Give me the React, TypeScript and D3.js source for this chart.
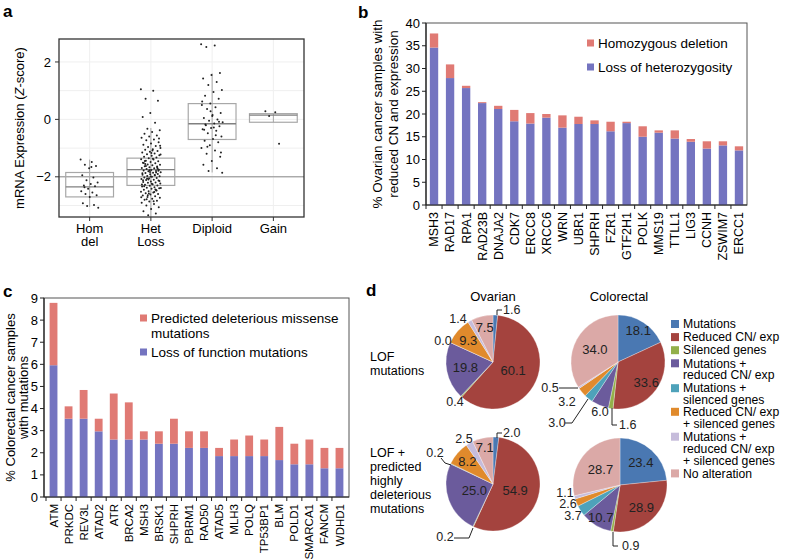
import * as d3 from 'd3'

const FONT = 'Liberation Sans, Arial, Helvetica, sans-serif'
const RED = '#e07a74'
const BLUE = '#7474c0'

// ---- panel a: mRNA expression by copy number state ----
const cnCats = ['Hom del', 'Het Loss', 'Diploid', 'Gain']
const cnLines = [['Hom', 'del'], ['Het', 'Loss'], ['Diploid'], ['Gain']]
const boxLow = [-3.05, -3.4, -1.85, -0.1]
const boxQ1 = [-2.7, -2.3, -0.7, -0.1]
const boxMed = [-2.35, -1.75, -0.15, 0.15]
const boxQ3 = [-1.85, -1.35, 0.55, 0.2]
const boxHigh = [-1.4, -0.3, 1.6, 0.2]
const homDelPts = [-1.4, -1.48, -1.58, -1.62, -1.7, -1.95, -2.02, -2.12, -2.2, -2.25, -2.3, -2.33, -2.42, -2.5, -2.55, -2.6, -2.64, -2.7, -2.92, -2.98, -3.02, -3.08, -1.66, -2.36]
const hetLossPts = [
  1.05, 1.0, 0.72, 0.65, 0.22, 0.08, -0.12, -0.33, -0.38, -0.44, -0.5, -0.56, -0.6, -0.64, -0.7, -0.73, -0.8,
  -0.84, -0.88, -0.93, -0.96, -1.0, -1.04, -1.06, -1.1, -1.13, -1.15, -1.19, -1.21, -1.25, -1.27, -1.3, -1.33,
  -1.35, -1.39, -1.4, -1.44, -1.46, -1.48, -1.51, -1.53, -1.57, -1.58, -1.6, -1.63, -1.64, -1.67, -1.69, -1.7,
  -1.73, -1.75, -1.76, -1.78, -1.8, -1.81, -1.84, -1.86, -1.87, -1.9, -1.91, -1.93, -1.95, -1.97, -1.98, -2.0,
  -2.02, -2.04, -2.05, -2.08, -2.1, -2.11, -2.13, -2.16, -2.18, -2.2, -2.21, -2.23, -2.26, -2.28, -2.3, -2.31,
  -2.34, -2.36, -2.38, -2.4, -2.42, -2.45, -2.47, -2.5, -2.52, -2.55, -2.57, -2.6, -2.62, -2.65, -2.68, -2.7,
  -2.73, -2.76, -2.8, -2.83, -2.86, -2.9, -2.95, -3.0, -3.06, -3.12, -3.2, -3.28, -3.34, -1.22, -1.37, -1.55,
  -1.72, -1.83, -1.88, -1.94, -2.06, -2.15, -2.24, -2.33, -2.48, -2.58, -2.71, -2.85, -1.62, -1.79, -1.99, -2.12,
  -2.44, -2.64, -0.92, -1.08, -1.45, -1.68, -1.77, -2.27, -2.53, -2.78, -0.67, -1.17, -1.52, -1.85, -2.09, -2.39
]
const diploidPts = [
  2.62, 2.57, 2.52, 1.62, 1.55, 1.42, 1.3, 1.2, 1.02, 0.95, 0.82, 0.72, 0.55, 0.5, 0.42, 0.36, 0.22, 0.12, 0.05,
  0.0, -0.05, -0.1, -0.14, -0.2, -0.24, -0.3, -0.34, -0.4, -0.48, -0.6, -0.68, -0.74, -0.8, -0.9, -1.0, -1.08,
  -1.2, -1.3, -1.45, -1.58, -1.7, -1.8, -1.86, -0.28, -0.18, -0.08, 0.28, 0.62, -0.55, -0.95, -1.15, 0.15, -0.36
]
const gainPts = [0.28, 0.25, 0.12, -0.85]
const cnPts = [homDelPts, hetLossPts, diploidPts, gainPts]
const cnJitter = [9, 10, 11, 8]
const zTicks = [2, 0, -2]
const zGrid = [2, 1, 0, -1, -2, -3]

// ---- panel b: ovarian, reduced CN and expression ----
const genesB = ['MSH3', 'RAD17', 'RPA1', 'RAD23B', 'DNAJA2', 'CDK7', 'ERCC8', 'XRCC6', 'WRN', 'UBR1', 'SHPRH', 'FZR1', 'GTF2H1', 'POLK', 'MMS19', 'TTLL1', 'LIG3', 'CCNH', 'ZSWIM7', 'ERCC1']
const lohB = [34.6, 27.9, 25.7, 22.4, 21.1, 18.4, 17.9, 19.2, 17.0, 17.8, 17.8, 16.2, 18.0, 15.0, 15.9, 14.6, 13.9, 12.4, 13.1, 12.0]
const homB = [3.1, 3.0, 0.5, 0.2, 0.7, 2.5, 2.3, 0.8, 2.7, 1.6, 0.8, 2.1, 0.3, 2.3, 0.5, 1.8, 0.6, 1.6, 0.9, 0.9]
const ticksB = [0, 5, 10, 15, 20, 25, 30, 35, 40]

// ---- panel c: colorectal mutations ----
const genesC = ['ATM', 'PRKDC', 'REV3L', 'ATAD2', 'ATR', 'BRCA2', 'MSH3', 'BRSK1', 'SHPRH', 'PBRM1', 'RAD50', 'ATAD5', 'MLH3', 'POLQ', 'TP53BP1', 'BLM', 'POLD1', 'SMARCA1', 'FANCM', 'WDHD1']
const lofC = [5.96, 3.54, 3.54, 2.97, 2.6, 2.6, 2.6, 2.41, 2.41, 2.22, 2.22, 1.85, 1.85, 1.85, 1.85, 1.67, 1.48, 1.48, 1.3, 1.3]
const missC = [2.82, 0.56, 1.3, 0.57, 2.08, 1.68, 0.37, 0.56, 1.13, 0.75, 0.75, 0.37, 0.75, 0.93, 0.75, 1.5, 0.93, 1.12, 0.92, 0.92]
const ticksC = [0, 1, 2, 3, 4, 5, 6, 7, 8, 9]

// ---- panel d: pies ----
const altLabels = [
  ['Mutations'], ['Reduced CN/ exp'], ['Silenced genes'], ['Mutations +', 'reduced CN/ exp'],
  ['Mutations +', 'silenced genes'], ['Reduced CN/ exp', '+ silenced genes'],
  ['Mutations +', 'reduced CN/ exp', '+ silenced genes'], ['No alteration']
]
const altColors = ['#4a78b2', '#a4433e', '#93b04a', '#6b5b9c', '#4ea2ba', '#e08a2c', '#c6bcdb', '#dba9a7']
const ovarianLof = [1.6, 60.1, 0.4, 19.8, 0.0, 9.3, 1.4, 7.5]
const colorectalLof = [18.1, 33.6, 1.6, 6.0, 3.0, 3.2, 0.5, 34.0]
const ovarianDel = [2.0, 54.9, 0.2, 25.0, 0.2, 8.2, 2.5, 7.1]
const colorectalDel = [23.4, 28.9, 0.9, 10.7, 3.7, 2.6, 1.1, 28.7]

type Lab = { i: number; r?: number; at?: [number, number]; anchor?: string; leader?: [number, number][] }
const pies: { cx: number; cy: number; values: number[]; labels: Lab[] }[] = [
  {
    cx: 493, cy: 362, values: ovarianLof,
    labels: [
      { i: 1, r: 0.47 }, { i: 3, r: 0.6 }, { i: 5, r: 0.7 }, { i: 7, r: 0.76 },
      { i: 0, at: [10, -52], anchor: 'start', leader: [[4, -47], [4, -52], [9, -52]] },
      { i: 6, at: [-35, -43] }, { i: 4, at: [-50, -21] }, { i: 2, at: [-38, 40] }
    ]
  },
  {
    cx: 618, cy: 362, values: colorectalLof,
    labels: [
      { i: 0, r: 0.8 }, { i: 1, r: 0.74 }, { i: 7, r: 0.56 },
      { i: 6, at: [-68, 26], leader: [[-59, 26], [-40, 26]] },
      { i: 5, at: [-51, 40] },
      { i: 4, at: [-61, 61], leader: [[-53, 61], [-46, 61], [-30, 37]] },
      { i: 3, at: [-18, 50] },
      { i: 2, at: [1, 63], anchor: 'start', leader: [[-6, 46], [-6, 63], [-1, 63]] }
    ]
  },
  {
    cx: 493, cy: 484, values: ovarianDel,
    labels: [
      { i: 1, r: 0.49 }, { i: 3, r: 0.42 }, { i: 5, r: 0.72 }, { i: 7, r: 0.79 },
      { i: 0, at: [10, -51], anchor: 'start', leader: [[4, -46], [4, -51], [9, -51]] },
      { i: 6, at: [-29, -45] },
      { i: 4, at: [-58, -31], leader: [[-52, -26], [-48, -21], [-42, -19]] },
      { i: 2, at: [-48, 53], leader: [[-39, 54], [-24, 54], [-20, 44]] }
    ]
  },
  {
    cx: 620, cy: 485, values: colorectalDel,
    labels: [
      { i: 0, r: 0.66 }, { i: 1, r: 0.66 }, { i: 7, r: 0.53 }, { i: 3, r: 0.8 },
      { i: 6, at: [-55, 8] }, { i: 5, at: [-52, 19] }, { i: 4, at: [-47, 31] },
      { i: 2, at: [2, 61], anchor: 'start', leader: [[-7, 47], [-7, 61], [-2, 61]] }
    ]
  }
]
const pieRadius = 47

function PanelA() {
  const x = d3.scaleBand<string>().domain(cnCats).range([59, 304])
  const y = d3.scaleLinear().domain([-3.4, 2.8]).range([217, 39])
  const bw = x.bandwidth()
  return (
    <g>
      <text x={3} y={17} fontSize={17} fontWeight="bold">a</text>
      {zGrid.map((v) => (
        <line key={v} x1={59} x2={304} y1={y(v)} y2={y(v)} stroke="#efefef" strokeWidth={1} />
      ))}
      {cnCats.map((c) => (
        <line key={c} x1={x(c)! + bw / 2} x2={x(c)! + bw / 2} y1={39} y2={217} stroke="#efefef" />
      ))}
      <line x1={59} x2={304} y1={y(-2)} y2={y(-2)} stroke="#8a8a8a" strokeWidth={1} />
      {cnCats.map((c, i) => {
        const cx = x(c)! + bw / 2
        const hw = bw * 0.39
        return (
          <g key={c}>
            <line x1={cx} x2={cx} y1={y(boxLow[i])} y2={y(boxHigh[i])} stroke="#a8a8a8" />
            <rect x={cx - hw} width={hw * 2} y={y(boxQ3[i])} height={y(boxQ1[i]) - y(boxQ3[i])}
              fill="none" stroke="#a8a8a8" strokeWidth={1.2} />
            <line x1={cx - hw} x2={cx + hw} y1={y(boxMed[i])} y2={y(boxMed[i])} stroke="#808080" strokeWidth={1.4} />
            {cnPts[i].map((v, k) => {
              const j = (((k * 0.618034) % 1) - 0.5) * 2 * cnJitter[i]
              return <circle key={k} cx={cx + j} cy={y(v)} r={1} fill="#222" />
            })}
          </g>
        )
      })}
      <rect x={59} y={39} width={245} height={178} fill="none" stroke="#333" strokeWidth={1.3} />
      {zTicks.map((v) => (
        <g key={v}>
          <line x1={55} x2={59} y1={y(v)} y2={y(v)} stroke="#333" />
          <text x={51} y={y(v)} dy="0.35em" textAnchor="end" fontSize={13}>{v < 0 ? '\u2212' + Math.abs(v) : v}</text>
        </g>
      ))}
      {cnCats.map((c, i) => (
        <g key={c}>
          <line x1={x(c)! + bw / 2} x2={x(c)! + bw / 2} y1={217} y2={221} stroke="#333" />
          {cnLines[i].map((t, k) => (
            <text key={k} x={x(c)! + bw / 2} y={228 + k * 13} dy="0.35em" textAnchor="middle" fontSize={13}>{t}</text>
          ))}
        </g>
      ))}
      <text transform={`translate(19,${(39 + 217) / 2}) rotate(-90)`} textAnchor="middle" dy="0.35em" fontSize={13}>
        mRNA Expression (<tspan fontStyle="italic">Z</tspan>-score)
      </text>
    </g>
  )
}

function StackedPanel(props: {
  letter: string; lx: number; ly: number; genes: string[]; base: number[]; top: number[]; ticks: number[]
  x0: number; x1: number; y0: number; y1: number; max: number; pad: number; xfs: number; yfs: number
  ylab: string[]; ylabX: number[]; legend: { color: string; lines: string[]; y: number }[]; legX: number
}) {
  const p = props
  const x = d3.scaleBand<string>().domain(p.genes).range([p.x0 + p.pad, p.x1 - p.pad]).paddingInner(0.48).paddingOuter(0.24)
  const y = d3.scaleLinear().domain([0, p.max]).range([p.y0, p.y1])
  const step = x.step()
  return (
    <g>
      <text x={p.lx} y={p.ly} fontSize={17} fontWeight="bold">{p.letter}</text>
      <rect x={p.x0} y={p.y1} width={p.x1 - p.x0} height={p.y0 - p.y1} fill="none" stroke="#555" strokeWidth={1} />
      {p.genes.map((g, i) => (
        <g key={g}>
          <rect x={x(g)} width={x.bandwidth()} y={y(p.base[i])} height={y(0) - y(p.base[i])} fill={BLUE} />
          <rect x={x(g)} width={x.bandwidth()} y={y(p.base[i] + p.top[i])} height={y(p.base[i]) - y(p.base[i] + p.top[i])} fill={RED} />
          <text transform={`translate(${x(g)! + x.bandwidth() / 2},${p.y0 + 7}) rotate(-90)`} textAnchor="end" dy="0.35em" fontSize={p.xfs}>{g}</text>
        </g>
      ))}
      <line x1={p.x0} x2={p.x1} y1={p.y0} y2={p.y0} stroke="#222" strokeWidth={1.2} />
      <line x1={p.x0} x2={p.x0} y1={p.y0} y2={p.y1} stroke="#222" strokeWidth={1.2} />
      {p.genes.map((g) => (
        <line key={g} x1={x(g)! - (step - x.bandwidth()) / 2} x2={x(g)! - (step - x.bandwidth()) / 2}
          y1={p.y0} y2={p.y0 + 4} stroke="#222" />
      ))}
      {p.ticks.map((t) => (
        <g key={t}>
          <line x1={p.x0 - 4} x2={p.x0} y1={y(t)} y2={y(t)} stroke="#222" />
          <text x={p.x0 - 6} y={y(t)} dy="0.35em" textAnchor="end" fontSize={13}>{t}</text>
        </g>
      ))}
      {p.ylab.map((t, k) => (
        <text key={k} transform={`translate(${p.ylabX[k]},${(p.y0 + p.y1) / 2}) rotate(-90)`} textAnchor="middle" dy="0.35em" fontSize={p.yfs}>{t}</text>
      ))}
      {p.legend.map((l) => (
        <g key={l.lines[0]}>
          <rect x={p.legX} y={l.y - 3.5} width={7} height={7} fill={l.color} />
          {l.lines.map((t, k) => (
            <text key={k} x={p.legX + 11} y={l.y + k * 15} dy="0.35em" fontSize={13.5}>{t}</text>
          ))}
        </g>
      ))}
    </g>
  )
}

function PanelD() {
  const pie = d3.pie<number>().sort(null).value((d) => d)
  const arc = d3.arc<d3.PieArcDatum<number>>().innerRadius(0).outerRadius(pieRadius)
  let yy = 324
  const legendRows = altLabels.map((lines, i) => {
    const y0 = yy
    yy += lines.length * 11.8 + (i === 4 ? 0 : 1.3)
    return { lines, y0, i }
  })
  return (
    <g>
      <text x={366} y={296} fontSize={17} fontWeight="bold">d</text>
      <text x={493} y={296} textAnchor="middle" dy="0.35em" fontSize={13}>Ovarian</text>
      <text x={619} y={296} textAnchor="middle" dy="0.35em" fontSize={13}>Colorectal</text>
      {['LOF', 'mutations'].map((t, k) => (
        <text key={t} x={370} y={357 + k * 14} dy="0.35em" fontSize={12.5}>{t}</text>
      ))}
      {['LOF +', 'predicted', 'highly', 'deleterious', 'mutations'].map((t, k) => (
        <text key={t} x={370} y={453 + k * 14} dy="0.35em" fontSize={12.5}>{t}</text>
      ))}
      {pies.map((pd, pi) => {
        const arcs = pie(pd.values)
        return (
          <g key={pi} transform={`translate(${pd.cx},${pd.cy})`}>
            {arcs.map((a, i) => (
              <path key={i} d={arc(a) || ''} fill={altColors[i]} stroke="#fff" strokeWidth={0.3} />
            ))}
            {pd.labels.map((l) => {
              const txt = pd.values[l.i].toFixed(1)
              if (l.r !== undefined) {
                const c = d3.arc<d3.PieArcDatum<number>>().innerRadius(pieRadius * l.r).outerRadius(pieRadius * l.r).centroid(arcs[l.i])
                return <text key={l.i} x={c[0]} y={c[1]} dy="0.35em" textAnchor="middle" fontSize={13} fill="#222">{txt}</text>
              }
              return (
                <g key={l.i}>
                  {l.leader && (
                    <polyline points={l.leader.map((q) => q.join(',')).join(' ')} fill="none" stroke="#222" strokeWidth={1} />
                  )}
                  <text x={l.at![0]} y={l.at![1]} dy="0.35em" textAnchor={l.anchor || 'middle'} fontSize={12.5} fill="#222">{txt}</text>
                </g>
              )
            })}
          </g>
        )
      })}
      {legendRows.map((row) => (
        <g key={row.i}>
          <rect x={671} y={row.y0 - 4} width={8} height={8} fill={altColors[row.i]} />
          {row.lines.map((t, k) => (
            <text key={k} x={683} y={row.y0 + k * 11.8} dy="0.35em" fontSize={12.2}>{t}</text>
          ))}
        </g>
      ))}
    </g>
  )
}

export default function App() {
  return (
    <>
      <style>{'body{margin:0}'}</style>
      <svg width={788} height={560} style={{ display: 'block', fontFamily: FONT, background: '#fff' }}>
        <rect width={788} height={560} fill="#fff" />
        <PanelA />
        <StackedPanel letter="b" lx={358} ly={18} genes={genesB} base={lohB} top={homB} ticks={ticksB}
          x0={426} x1={747} y0={205} y1={23} max={40} pad={0} xfs={12.5} yfs={13.5}
          ylab={['% Ovarian cancer samples with', 'reduced CN and expression']} ylabX={[377, 393]}
          legend={[{ color: RED, lines: ['Homozygous deletion'], y: 43 }, { color: BLUE, lines: ['Loss of heterozygosity'], y: 67 }]}
          legX={587} />
        <StackedPanel letter="c" lx={3} ly={297} genes={genesC} base={lofC} top={missC} ticks={ticksC}
          x0={44} x1={349} y0={497} y1={298} max={9} pad={2} xfs={11.5} yfs={13}
          ylab={['% Colorectal cancer samples', 'with mutations']} ylabX={[10, 23]}
          legend={[{ color: RED, lines: ['Predicted deleterious missense', 'mutations'], y: 318 }, { color: BLUE, lines: ['Loss of function mutations'], y: 352 }]}
          legX={140} />
        <PanelD />
      </svg>
    </>
  )
}
